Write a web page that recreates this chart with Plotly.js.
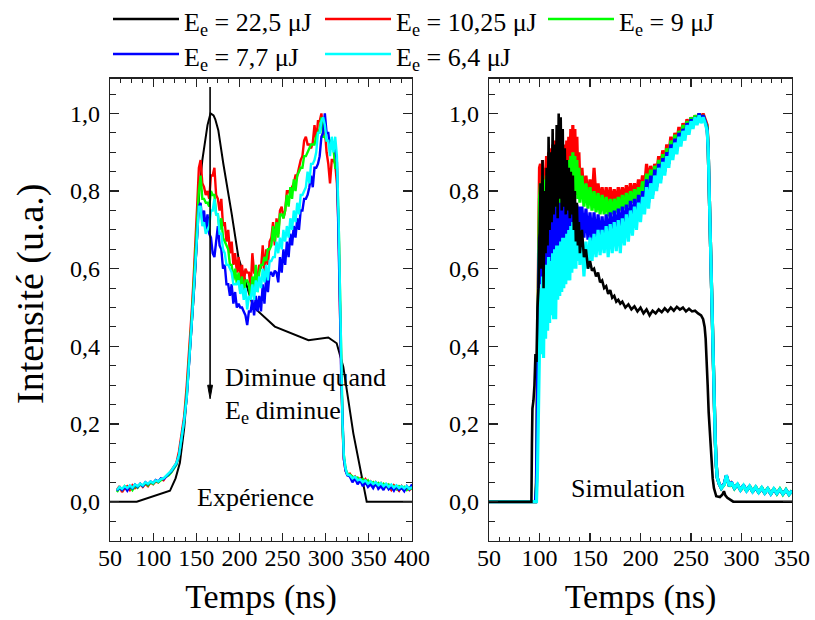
<!DOCTYPE html>
<html><head><meta charset="utf-8">
<script src="https://cdn.plot.ly/plotly-3.0.1.min.js"></script>
<style>html,body{margin:0;padding:0;background:#fff}</style>
</head><body><div id="chart" style="width:815px;height:620px"></div>
<script>
// ---------------- Experiment (left panel) ----------------
const tExp = [58,61,64,67,70,73,76,79,82,85,88,91,94,97,100,103,106,109,112,115,118,121,124,127,
130,133,136,139,141,143,145,147,149,151,153,
155,157,159,161,163,165,167,169,171,173,
175,177,179,181,183,185,187,189,191,193,
195,197,199,201,203,205,207,209,211,213,
215,217,219,221,223,225,227,229,231,233,
235,237,239,241,243,245,247,249,251,253,
255,257,259,261,263,265,267,269,271,273,
275,277,279,281,283,285,287,289,291,293,
295,297,299,301,303,305,307,309,311,313,
315,316.5,318,319.5,321,323,325,
328,331,334,337,340,343,346,349,352,355,358,361,364,367,370,373,376,379,382,385,388,391,394,397,400];

const expRed = [0.030,0.040,0.025,0.035,0.040,0.030,0.042,0.035,0.040,0.045,0.038,0.046,0.040,0.050,0.045,0.052,0.050,0.058,0.055,0.065,0.070,0.080,0.090,0.100,
0.13,0.17,0.22,0.30,0.36,0.43,0.50,0.58,0.66,0.76,0.86,
0.88,0.82,0.81,0.79,0.80,0.78,0.84,0.84,0.86,0.79,
0.78,0.75,0.78,0.71,0.72,0.67,0.70,0.64,0.67,0.61,
0.64,0.59,0.63,0.57,0.61,0.56,0.60,0.59,0.59,0.55,
0.64,0.59,0.59,0.58,0.61,0.60,0.66,0.59,0.65,0.61,
0.67,0.68,0.72,0.66,0.73,0.69,0.75,0.76,0.73,0.75,
0.80,0.80,0.79,0.81,0.82,0.84,0.84,0.86,0.88,0.89,
0.93,0.94,0.92,0.92,0.91,0.925,0.97,0.93,0.98,0.98,
1.00,0.96,0.96,0.90,0.87,0.82,0.88,0.88,0.87,0.82,
0.70,0.50,0.32,0.19,0.11,0.08,0.07,
0.072,0.060,0.065,0.055,0.060,0.050,0.058,0.045,0.052,0.040,0.050,0.042,0.048,0.036,0.045,0.040,0.030,0.042,0.035,0.028,0.040,0.032,0.038,0.030,0.036];

const expGreen = [0.025,0.035,0.030,0.040,0.032,0.038,0.030,0.042,0.036,0.045,0.040,0.048,0.042,0.050,0.046,0.055,0.050,0.056,0.060,0.064,0.068,0.075,0.085,0.095,
0.12,0.16,0.21,0.28,0.34,0.41,0.48,0.56,0.64,0.73,0.80,
0.84,0.78,0.78,0.77,0.77,0.76,0.80,0.79,0.79,0.74,
0.74,0.70,0.73,0.68,0.67,0.66,0.65,0.61,0.61,0.57,
0.60,0.56,0.59,0.54,0.58,0.535,0.57,0.57,0.56,0.52,
0.58,0.55,0.61,0.54,0.59,0.61,0.61,0.63,0.62,0.65,
0.65,0.66,0.71,0.67,0.72,0.68,0.74,0.74,0.73,0.75,
0.79,0.76,0.81,0.78,0.83,0.80,0.84,0.85,0.86,0.86,
0.89,0.89,0.90,0.91,0.92,0.92,0.92,0.94,0.95,0.96,
0.99,0.94,0.94,0.93,0.93,0.93,0.91,0.91,0.86,0.86,
0.72,0.52,0.33,0.20,0.12,0.085,0.072,
0.070,0.065,0.058,0.062,0.052,0.058,0.048,0.055,0.045,0.050,0.042,0.048,0.040,0.046,0.038,0.044,0.035,0.040,0.032,0.040,0.034,0.038,0.030,0.036,0.032];

const expBlue = [0.028,0.036,0.030,0.038,0.028,0.040,0.034,0.044,0.038,0.046,0.040,0.050,0.045,0.052,0.048,0.056,0.052,0.060,0.058,0.065,0.070,0.078,0.088,0.098,
0.12,0.16,0.21,0.27,0.33,0.40,0.47,0.54,0.62,0.70,0.76,
0.77,0.72,0.75,0.70,0.74,0.69,0.68,0.64,0.63,0.68,
0.71,0.66,0.65,0.60,0.61,0.56,0.56,0.53,0.56,0.51,
0.54,0.50,0.51,0.50,0.50,0.49,0.48,0.455,0.49,0.49,
0.52,0.48,0.53,0.49,0.53,0.49,0.56,0.51,0.58,0.54,
0.59,0.59,0.58,0.595,0.59,0.565,0.63,0.59,0.65,0.61,
0.67,0.63,0.69,0.66,0.71,0.68,0.73,0.70,0.75,0.75,
0.78,0.78,0.79,0.81,0.84,0.81,0.86,0.86,0.87,0.89,
0.94,0.95,1.00,0.95,0.95,0.91,0.92,0.92,0.91,0.875,
0.70,0.50,0.32,0.19,0.11,0.08,0.068,
0.065,0.050,0.060,0.045,0.055,0.040,0.050,0.038,0.045,0.035,0.048,0.033,0.040,0.030,0.045,0.032,0.038,0.028,0.040,0.030,0.036,0.027,0.040,0.032,0.045];

const expCyan = [0.030,0.038,0.033,0.040,0.035,0.042,0.036,0.044,0.040,0.046,0.042,0.050,0.046,0.052,0.048,0.055,0.052,0.058,0.060,0.066,0.072,0.080,0.090,0.100,
0.12,0.16,0.21,0.27,0.33,0.40,0.47,0.54,0.62,0.70,0.76,
0.76,0.71,0.72,0.69,0.70,0.71,0.75,0.75,0.78,0.74,
0.74,0.69,0.69,0.65,0.64,0.61,0.61,0.60,0.59,0.56,
0.56,0.56,0.57,0.535,0.56,0.52,0.55,0.495,0.53,0.52,
0.56,0.52,0.57,0.54,0.58,0.55,0.60,0.565,0.61,0.57,
0.62,0.62,0.63,0.63,0.67,0.64,0.68,0.65,0.70,0.67,
0.71,0.68,0.73,0.70,0.75,0.72,0.77,0.74,0.79,0.79,
0.80,0.81,0.85,0.82,0.87,0.87,0.88,0.90,0.95,0.95,
0.98,0.99,0.97,0.93,0.93,0.89,0.94,0.90,0.94,0.89,
0.72,0.52,0.33,0.20,0.12,0.085,0.07,
0.068,0.060,0.064,0.055,0.058,0.050,0.055,0.046,0.052,0.045,0.050,0.042,0.048,0.040,0.046,0.038,0.044,0.036,0.042,0.035,0.040,0.034,0.040,0.033,0.038];

const tExpBlack = [50,81,119.5,126,131,136,140,144,148,151,153.5,157,160.4,163,166.5,170,172,175.5,181.3,186,191,198.7,205,212,216,241,280,303,312.7,320.4,332,347.5,400];
const expBlack  = [0,0,0.028,0.06,0.10,0.19,0.30,0.42,0.56,0.68,0.80,0.88,0.926,0.97,1.0,0.995,0.985,0.957,0.871,0.81,0.742,0.631,0.58,0.53,0.502,0.451,0.416,0.423,0.408,0.347,0.176,0,0];

// ---------------- Simulation (right panel) ----------------
const tSim = [50,95,96,97,98,99,100,
101,102,103,104,105,106,107,108,109,110,111,112,113,114,115,116,117,118,119,120,
121,122,123,124,125,126,127,128,129,130,131,132,133,134,135,136,137,138,139,140,
142,144,146,148,150,152,154,156,158,160,162,164,166,168,170,172,174,176,178,180,
182,184,186,188,190,192,194,196,198,200,202,204,206,208,210,212,214,216,218,220,
222,224,226,228,230,232,234,236,238,240,242,244,246,248,250,252,254,256,258,260,262,264,266,
267,268,269,270,271,272,273,274,275,276,278,
280,283,285,288,290,293,296,299,302,305,308,311,314,317,320,323,326,329,332,335,338,341,344,347,350];

const simRed = [0,0,0,0.05,0.45,0.62,0.86,
0.87,0.76,0.88,0.79,0.86, 0.80,0.89,0.78,0.90,0.81, 0.91,0.80,0.92,0.82,0.93, 0.81,0.91,0.83,0.93,0.82,
0.92,0.81,0.90,0.83,0.92, 0.84,0.93,0.85,0.94,0.86, 0.96,0.86,0.97,0.87,0.96, 0.85,0.94,0.83,0.90,0.82,
0.86,0.79,0.84,0.78,0.83, 0.77,0.86,0.78,0.82,0.77, 0.81,0.765,0.81,0.77,0.81, 0.765,0.805,0.77,0.81,0.775,
0.81,0.78,0.815,0.78,0.82, 0.785,0.82,0.79,0.83,0.80, 0.84,0.81,0.87,0.82,0.865, 0.83,0.87,0.845,0.89,0.86,
0.905,0.87,0.92,0.89,0.94, 0.91,0.95,0.925,0.965,0.94, 0.975,0.955,0.985,0.965,0.99, 0.975,0.995,0.98,1.0,0.985, 1.0,0.985,0.97,
0.91,0.80,0.67,0.555,0.455,0.35,0.245,0.16,0.095,0.062,0.045,
0.036,0.046,0.066,0.041,0.048,0.036,0.044,0.031,0.040,0.029,0.039,0.027,0.037,0.025,0.035,0.023,0.033,0.021,0.032,0.022,0.031,0.021,0.029,0.020,0.027];

const simGreen = [0,0,0,0.05,0.42,0.58,0.78,
0.82,0.70,0.84,0.72,0.83, 0.73,0.84,0.74,0.83,0.75, 0.85,0.74,0.84,0.76,0.86, 0.75,0.85,0.77,0.86,0.76,
0.86,0.77,0.85,0.78,0.87, 0.77,0.87,0.79,0.88,0.78, 0.89,0.79,0.90,0.80,0.89, 0.79,0.88,0.78,0.86,0.77,
0.84,0.76,0.82,0.755,0.81, 0.75,0.80,0.745,0.795,0.74, 0.79,0.74,0.785,0.735,0.78, 0.74,0.78,0.745,0.785,0.75,
0.79,0.755,0.795,0.76,0.80, 0.77,0.805,0.775,0.81,0.785, 0.825,0.795,0.845,0.81,0.855, 0.825,0.865,0.84,0.88,0.855,
0.895,0.87,0.91,0.885,0.93, 0.905,0.945,0.92,0.955,0.935, 0.97,0.95,0.98,0.96,0.99, 0.97,0.995,0.98,1.0,0.98, 0.995,0.98,0.965,
0.91,0.80,0.67,0.555,0.455,0.35,0.245,0.16,0.095,0.062,0.045,
0.034,0.044,0.067,0.039,0.049,0.034,0.046,0.029,0.041,0.027,0.041,0.025,0.039,0.023,0.037,0.021,0.035,0.019,0.034,0.020,0.033,0.019,0.031,0.018,0.029];

const simBlue = [0,0,0,0.04,0.40,0.52,0.68,
0.69,0.56,0.70,0.58,0.71, 0.60,0.72,0.61,0.73,0.62, 0.74,0.63,0.75,0.63,0.76, 0.64,0.755,0.65,0.76,0.66,
0.77,0.66,0.765,0.67,0.77, 0.68,0.775,0.68,0.77,0.69, 0.78,0.70,0.775,0.70,0.77, 0.69,0.765,0.68,0.76,0.68,
0.76,0.68,0.755,0.675,0.745, 0.67,0.745,0.665,0.74,0.67, 0.735,0.665,0.74,0.67,0.745, 0.675,0.75,0.68,0.755,0.69,
0.76,0.695,0.765,0.70,0.775, 0.71,0.78,0.725,0.79,0.74, 0.80,0.755,0.83,0.77,0.84, 0.79,0.855,0.81,0.87,0.83,
0.885,0.85,0.90,0.87,0.92, 0.89,0.935,0.905,0.95,0.925, 0.96,0.94,0.975,0.955,0.985, 0.965,0.99,0.975,1.0,0.98, 0.995,0.98,0.96,
0.91,0.80,0.67,0.555,0.455,0.35,0.245,0.16,0.095,0.062,0.045,
0.035,0.047,0.068,0.040,0.051,0.035,0.044,0.030,0.043,0.028,0.039,0.026,0.037,0.024,0.035,0.022,0.033,0.020,0.032,0.021,0.031,0.020,0.030,0.019,0.028];

const simCyan = [0,0,0,0,0.08,0.24,0.34,
0.55,0.38,0.58,0.37,0.60, 0.42,0.61,0.44,0.63,0.46, 0.62,0.48,0.64,0.47,0.65, 0.47,0.66,0.52,0.66,0.53,
0.67,0.54,0.68,0.55,0.68, 0.56,0.69,0.57,0.70,0.57, 0.71,0.59,0.72,0.60,0.73, 0.60,0.71,0.62,0.70,0.61,
0.68,0.58,0.67,0.60,0.68, 0.62,0.69,0.63,0.70,0.635, 0.70,0.64,0.71,0.63,0.715, 0.64,0.72,0.645,0.725,0.64,
0.73,0.66,0.74,0.67,0.75, 0.685,0.76,0.70,0.77,0.72, 0.785,0.74,0.81,0.755,0.82, 0.78,0.84,0.80,0.86,0.82,
0.875,0.84,0.89,0.86,0.91, 0.88,0.925,0.895,0.94,0.915, 0.955,0.93,0.97,0.945,0.98, 0.96,0.99,0.97,0.995,0.975, 0.99,0.975,0.955,
0.91,0.80,0.67,0.555,0.455,0.35,0.245,0.16,0.095,0.062,0.045,
0.035,0.045,0.068,0.040,0.050,0.035,0.045,0.030,0.042,0.028,0.040,0.026,0.038,0.024,0.036,0.022,0.034,0.020,0.033,0.021,0.032,0.020,0.030,0.019,0.028];

const tSimBlack = [50,92,92.5,93,94,95,96,97,98,99,100,
101,102,103,104,105,106,107,108,109,110,111,112,113,114,115,116,117,118,119,120,
121,122,123,124,125,126,127,128,129,130,131,132,133,134,135,136,137,138,139,140,
142,144,146,148,150,152,154,156,158,160,162,164,166,168,170,172,174,176,178,180,182,
185,188,191,194,197,200,203,206,209,212,215,218,221,224,227,230,233,236,239,242,245,248,251,254,257,260,
262,263.5,264.5,265.5,266.5,267.5,268.7,270,271.5,272.7,275,278.6,281,282.6,284,286,291.8,350];
const simBlack = [0,0,0.15,0.24,0.26,0.30,0.38,0.36,0.50,0.55,0.68,
0.82,0.60,0.88,0.55,0.80, 0.64,0.86,0.66,0.94,0.70, 0.90,0.72,0.96,0.74,0.92, 0.76,0.97,0.73,1.0,0.78,
0.99,0.75,0.96,0.76,0.91, 0.74,0.88,0.75,0.86,0.73, 0.85,0.74,0.84,0.70,0.80, 0.67,0.77,0.66,0.72,0.64,
0.70,0.63,0.65,0.60,0.62, 0.595,0.60,0.58,0.59,0.565, 0.57,0.55,0.555,0.535,0.545, 0.525,0.53,0.515,0.52,0.51, 0.515,
0.50,0.508,0.495,0.503,0.49, 0.50,0.485,0.495,0.48,0.492, 0.485,0.495,0.488,0.498,0.49, 0.50,0.492,0.502,0.495,0.50, 0.49,0.497,0.49,0.492,0.485, 0.48,
0.47,0.45,0.42,0.37,0.30,0.23,0.17,0.11,0.06,0.035,0.014,0.012,0.018,0.027,0.016,0.01,0,0];

// ---------------- Legend / labels ----------------
const legendLabels = ['E<sub>e</sub> = 22,5 μJ','E<sub>e</sub> = 10,25 μJ','E<sub>e</sub> = 9 μJ','E<sub>e</sub> = 7,7 μJ','E<sub>e</sub> = 6,4 μJ'];
const seriesColors = ['#000000','#ff0000','#00ff00','#0000ff','#00ffff'];

[[tExp,expRed],[tExp,expGreen],[tExp,expBlue],[tExp,expCyan],[tExpBlack,expBlack],
 [tSim,simRed],[tSim,simGreen],[tSim,simBlue],[tSim,simCyan],[tSimBlack,simBlack]].forEach((p,i)=>{
  if(p[0].length!==p[1].length) throw new Error('length mismatch '+i+': '+p[0].length+' vs '+p[1].length);
});

const FONT = "'Liberation Serif', 'Times New Roman', Times, serif";
function tr(x,y,color,w,xa,ya){return {x:x,y:y,type:'scatter',mode:'lines',line:{color:color,width:w},xaxis:xa,yaxis:ya,showlegend:false,hoverinfo:'skip'};}

const traces = [
  tr(tExpBlack,expBlack,seriesColors[0],2,'x','y'),
  tr(tExp,expRed,seriesColors[1],2.4,'x','y'),
  tr(tExp,expGreen,seriesColors[2],2.4,'x','y'),
  tr(tExp,expBlue,seriesColors[3],2.4,'x','y'),
  tr(tExp,expCyan,seriesColors[4],2.4,'x','y'),
  tr(tSim,simRed,seriesColors[1],3.2,'x2','y2'),
  tr(tSim,simGreen,seriesColors[2],3.2,'x2','y2'),
  tr(tSim,simBlue,seriesColors[3],3.2,'x2','y2'),
  tr(tSim,simCyan,seriesColors[4],3.2,'x2','y2'),
  tr(tSimBlack,simBlack,seriesColors[0],2.6,'x2','y2')
];

const yDom = [1-540.5/620, 1-78.5/620];
const common = {showline:true,linecolor:'#222',linewidth:1.3,mirror:'ticks',ticks:'inside',tickcolor:'#222',tickwidth:1.2,
  showgrid:false,zeroline:false,tickfont:{family:FONT,size:24,color:'#000'}};
function xax(dom,rng,minorD,anchor){return Object.assign({},common,{domain:dom,range:rng,tick0:50,dtick:50,ticklen:8,anchor:anchor,
  ticklabelstandoff:-5,minor:{ticks:'inside',ticklen:4,dtick:minorD,tick0:50,tickcolor:'#222',tickwidth:1,showgrid:false},
  title:{text:'Temps (ns)',font:{family:FONT,size:34,color:'#000'},standoff:14}});}
function yax(anchor){return Object.assign({},common,{domain:yDom,range:[-0.1,1.09],tick0:0,dtick:0.2,tickformat:'.1f',ticklen:9,anchor:anchor,
  ticklabelstandoff:4,minor:{ticks:'inside',ticklen:6,dtick:0.05,tick0:0,tickcolor:'#222',tickwidth:1,showgrid:false}});}

const legendPos = [[113,19],[325,19],[548,19],[113,54],[325,54]];
const shapes = legendPos.map((p,i)=>({type:'line',xref:'paper',yref:'paper',x0:p[0]/815,x1:(p[0]+66)/815,y0:1-p[1]/620,y1:1-p[1]/620,line:{color:seriesColors[i],width:2.5}}));
// arrow of the "Diminue quand" note
shapes.push({type:'line',xref:'x',yref:'y',x0:166,x1:166,y0:1.068,y1:0.29,line:{color:'#000',width:1.6}});
shapes.push({type:'path',xref:'x',yref:'y',path:'M 163.2,0.30 L 168.8,0.30 L 166,0.265 Z',fillcolor:'#000',line:{color:'#000',width:1}});

const annotations = legendPos.map((p,i)=>({text:legendLabels[i],xref:'paper',yref:'paper',x:(p[0]+69)/815,y:1-(p[1]+5)/620,xanchor:'left',yanchor:'middle',showarrow:false,font:{family:FONT,size:26,color:'#000'}}));
annotations.push(
  {text:'Intensité (u.a.)',xref:'paper',yref:'paper',x:31/815,y:1-294/620,xanchor:'center',yanchor:'middle',textangle:-90,showarrow:false,font:{family:FONT,size:38,color:'#000'}},
  {text:'Diminue quand',x:181,y:0.321,xref:'x',yref:'y',xanchor:'left',yanchor:'middle',showarrow:false,font:{family:FONT,size:26,color:'#000'}},
  {text:'E<sub>e</sub> diminue',x:181,y:0.23,xref:'x',yref:'y',xanchor:'left',yanchor:'middle',showarrow:false,font:{family:FONT,size:26,color:'#000'}},
  {text:'Expérience',x:219,y:0.012,xref:'x',yref:'y',xanchor:'center',yanchor:'middle',showarrow:false,font:{family:FONT,size:26,color:'#000'}},
  {text:'Simulation',x:188,y:0.033,xref:'x2',yref:'y2',xanchor:'center',yanchor:'middle',showarrow:false,font:{family:FONT,size:26,color:'#000'}}
);

const layout = {
  width:815,height:620,margin:{l:0,r:0,t:0,b:0},paper_bgcolor:'#fff',plot_bgcolor:'#fff',
  separators:', ',showlegend:false,font:{family:FONT,color:'#000'},
  xaxis:xax([110/815,412/815],[50,400],12.5,'y'),
  yaxis:yax('x'),
  xaxis2:xax([489/815,792/815],[50,350],10,'y2'),
  yaxis2:yax('x2'),
  shapes:shapes,annotations:annotations
};
Plotly.newPlot('chart',traces,layout,{displayModeBar:false,staticPlot:true});
</script></body></html>
